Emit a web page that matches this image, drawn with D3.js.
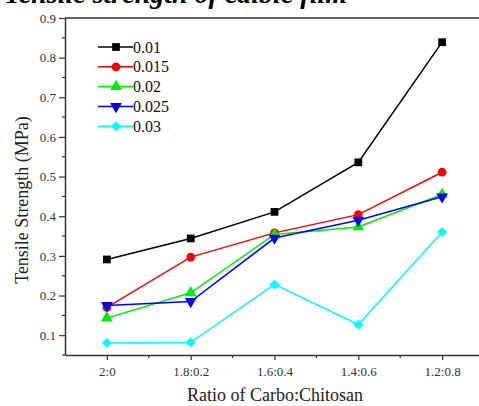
<!DOCTYPE html>
<html>
<head>
<meta charset="utf-8">
<script src="https://cdn.jsdelivr.net/npm/d3@7"></script>
<style>
  body { margin: 0; background: #fff; }
  svg text { font-family: 'Liberation Serif', 'Times New Roman', Times, serif; }
</style>
</head>
<body>
<div id="chart"></div>
<script>
// chart data
const ratios = ["2:0", "1.8:0.2", "1.6:0.4", "1.4:0.6", "1.2:0.8"];
const seriesNames = ["0.01", "0.015", "0.02", "0.025", "0.03"];
const s001 = [0.291, 0.344, 0.411, 0.536, 0.839];
const s0015 = [0.170, 0.297, 0.358, 0.404, 0.511];
const s002 = [0.143, 0.207, 0.354, 0.373, 0.455];
const s0025 = [0.175, 0.185, 0.345, 0.390, 0.449];
const s003 = [0.080, 0.082, 0.228, 0.127, 0.360];
const yTicks = [0.1, 0.2, 0.3, 0.4, 0.5, 0.6, 0.7, 0.8, 0.9];

const allValues = [s001, s0015, s002, s0025, s003];
const colors = ["#000000", "#ff0000", "#00ee00", "#0000ff", "#00ffff"];
const shapes = ["square", "circle", "up", "down", "diamond"];

let svgWidth = 479, svgHeight = 406;
let margin = {top: 18, left: 65, bottom: 51, right: -5};

let svg = d3.select("#chart").append("svg")
    .attr("width", svgWidth)
    .attr("height", svgHeight);

// title, clipped at the top of the picture like in the source
svg.append("text")
    .attr("x", 347)
    .attr("y", 2.5)
    .attr("text-anchor", "end")
    .attr("font-size", 28)
    .attr("font-weight", "bold")
    .attr("font-style", "italic")
    .text("Tensile strength of edible film");

let chartWidth = svgWidth - margin.left - margin.right;
let chartHeight = svgHeight - margin.top - margin.bottom;

let chartGroup = svg.append("g")
    .attr("transform", `translate(${margin.left}, ${margin.top})`);

let xScale = d3.scaleLinear()
    .domain([-0.5, 4.5])
    .range([0, chartWidth]);

let yScale = d3.scaleLinear()
    .domain([0.05, 0.9])
    .range([chartHeight, 0]);

const axisColor = "#333";

// top frame line
chartGroup.append("line")
    .attr("x1", 0).attr("x2", chartWidth)
    .attr("y1", 0).attr("y2", 0)
    .attr("stroke", axisColor).attr("stroke-width", 1.5);

// x axis
let xAxis = d3.axisBottom(xScale)
    .tickValues(d3.range(ratios.length))
    .tickFormat(i => ratios[i])
    .tickSize(5).tickSizeOuter(0);
let gx = chartGroup.append("g")
    .attr("transform", `translate(0, ${chartHeight})`)
    .call(xAxis)
    .attr("font-family", null);
gx.select(".domain").attr("stroke", axisColor).attr("stroke-width", 1.5);
gx.selectAll(".tick line").attr("stroke", axisColor).attr("stroke-width", 1.2);
gx.selectAll(".tick text")
    .attr("font-size", 13).attr("fill", "#333").attr("dy", "1em");
chartGroup.append("g")
    .attr("transform", `translate(0, ${chartHeight})`)
    .selectAll("line")
    .data(d3.range(ratios.length).map(i => i + 0.5))
    .enter().append("line")
    .attr("x1", d => xScale(d)).attr("x2", d => xScale(d))
    .attr("y1", 0).attr("y2", 3)
    .attr("stroke", axisColor).attr("stroke-width", 1.2);

// y axis
let yAxis = d3.axisLeft(yScale)
    .tickValues(yTicks)
    .tickFormat(d3.format(".1f"))
    .tickSize(6).tickSizeOuter(0);
let gy = chartGroup.append("g").call(yAxis).attr("font-family", null);
gy.select(".domain").attr("stroke", axisColor).attr("stroke-width", 1.5);
gy.selectAll(".tick line").attr("stroke", axisColor).attr("stroke-width", 1.2);
gy.selectAll(".tick text")
    .attr("font-size", 13).attr("fill", "#333").attr("x", -9);
chartGroup.append("g")
    .selectAll("line")
    .data(yTicks.map(d => d - 0.05))
    .enter().append("line")
    .attr("x1", -3).attr("x2", 0)
    .attr("y1", d => yScale(d)).attr("y2", d => yScale(d))
    .attr("stroke", axisColor).attr("stroke-width", 1.2);

function marker(shape) {
  if (shape === "up" || shape === "down") return d3.symbol().type(d3.symbolTriangle).size(60)();
  if (shape === "circle") return d3.symbol().type(d3.symbolCircle).size(60)();
  return d3.symbol().type(d3.symbolSquare).size(shape === "diamond" ? 50 : 60)();
}
function markerTransform(shape, x, y) {
  let rot = shape === "down" ? 180 : shape === "diamond" ? 45 : 0;
  return `translate(${x}, ${y}) rotate(${rot})`;
}

let line = d3.line()
    .x((d, i) => xScale(i))
    .y(d => yScale(d));

allValues.forEach((vals, k) => {
  chartGroup.append("path")
      .datum(vals)
      .attr("d", line)
      .attr("fill", "none")
      .attr("stroke", colors[k])
      .attr("stroke-width", 1.5);
  chartGroup.selectAll(".pt" + k)
      .data(vals)
      .enter().append("path")
      .attr("d", marker(shapes[k]))
      .attr("transform", (d, i) => markerTransform(shapes[k], xScale(i), yScale(d)))
      .attr("fill", colors[k]);
});

// legend
let legend = svg.append("g");
seriesNames.forEach((name, k) => {
  let y = 47 + k * 19.8;
  legend.append("line")
      .attr("x1", 98).attr("x2", 133)
      .attr("y1", y).attr("y2", y)
      .attr("stroke", colors[k]).attr("stroke-width", 1.5);
  legend.append("path")
      .attr("d", marker(shapes[k]))
      .attr("transform", markerTransform(shapes[k], 116, y))
      .attr("fill", colors[k]);
  legend.append("text")
      .attr("x", 133).attr("y", y)
      .attr("dy", "0.35em")
      .attr("font-size", 16)
      .attr("fill", "#111")
      .text(name);
});

// axis labels
svg.append("text")
    .attr("transform", "rotate(-90)")
    .attr("x", -200)
    .attr("y", 28)
    .attr("text-anchor", "middle")
    .attr("font-size", 18)
    .attr("fill", "#222")
    .text("Tensile Strength (MPa)");

svg.append("text")
    .attr("x", 275)
    .attr("y", 401)
    .attr("text-anchor", "middle")
    .attr("font-size", 18)
    .attr("fill", "#222")
    .text("Ratio of Carbo:Chitosan");
</script>
</body>
</html>
